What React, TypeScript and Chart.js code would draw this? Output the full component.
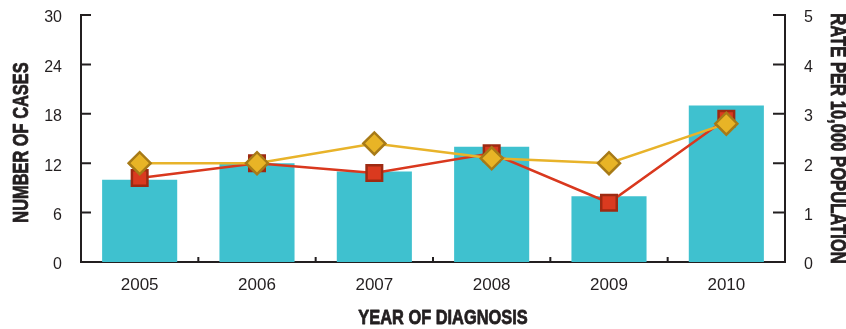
import React, { useEffect, useRef } from "react";
import { Chart, registerables } from "chart.js";

Chart.register(...registerables);

const years = ["2005", "2006", "2007", "2008", "2009", "2010"];
const cases = [10, 12, 11, 14, 8, 19];
const rateRed = [1.7, 2.0, 1.8, 2.2, 1.2, 2.9];
const rateYellow = [2.0, 2.0, 2.4, 2.1, 2.0, 2.8];

const xTitle = "YEAR OF DIAGNOSIS";
const yTitle = "NUMBER OF CASES";
const y1Title = "RATE PER 10,000 POPULATION";

const AXIS_COLOR = "#231F20";
const TICK_FONT = "'Liberation Sans', Arial, sans-serif";

const inwardTicks = {
  id: "inwardTicks",
  afterDraw(chart: any) {
    const ctx = chart.ctx;
    const x = chart.scales.x;
    const y = chart.scales.y;
    const y1 = chart.scales.y1;
    ctx.save();
    ctx.strokeStyle = AXIS_COLOR;
    ctx.lineWidth = 2;
    ctx.beginPath();
    y.ticks.forEach((_t: any, i: number) => {
      const py = y.getPixelForTick(i);
      ctx.moveTo(y.right, py);
      ctx.lineTo(y.right + 10, py);
    });
    y1.ticks.forEach((_t: any, i: number) => {
      const py = y1.getPixelForTick(i);
      ctx.moveTo(y1.left, py);
      ctx.lineTo(y1.left - 12, py);
    });
    for (let i = 0; i < x.ticks.length - 1; i++) {
      const px = (x.getPixelForTick(i) + x.getPixelForTick(i + 1)) / 2;
      ctx.moveTo(px, x.top);
      ctx.lineTo(px, x.top - 5);
    }
    ctx.stroke();
    ctx.restore();
  },
};

// Axis titles drawn in a condensed heavy face (horizontal compression)
const condensedTitles = {
  id: "condensedTitles",
  afterDraw(chart: any) {
    const ctx = chart.ctx;
    const area = chart.chartArea;
    const midY = (area.top + area.bottom) / 2;
    const draw = (text: string, cx: number, cy: number, rot: number, sx: number, size: number) => {
      ctx.save();
      ctx.translate(cx, cy);
      ctx.rotate(rot);
      ctx.scale(sx, 1);
      ctx.font = `bold ${size}px 'Liberation Sans', Arial, sans-serif`;
      ctx.fillStyle = AXIS_COLOR;
      ctx.strokeStyle = AXIS_COLOR;
      ctx.lineWidth = 0.8;
      ctx.lineJoin = "round";
      ctx.textAlign = "center";
      ctx.textBaseline = "middle";
      ctx.fillText(text, 0, 0);
      ctx.strokeText(text, 0, 0);
      ctx.restore();
    };
    draw(yTitle, 22, midY + 4, -Math.PI / 2, 0.745, 22);
    draw(y1Title, 837, midY, Math.PI / 2, 0.755, 22);
    draw(xTitle, (area.left + area.right) / 2 + 10, 318, 0, 0.78, 21);
  },
};

export default function App() {
  const ref = useRef<HTMLCanvasElement | null>(null);
  useEffect(() => {
    if (!ref.current) return;
    const chart = new Chart(ref.current, {
      type: "bar",
      data: {
        labels: years,
        datasets: [
          {
            type: "line",
            label: "Rate (yellow)",
            data: rateYellow,
            yAxisID: "y1",
            borderColor: "#E8B32A",
            borderWidth: 2.5,
            backgroundColor: "#E8B426",
            pointStyle: "rectRot",
            pointRadius: 11,
            pointBorderColor: "#A77A17",
            pointBorderWidth: 2.5,
            pointBackgroundColor: "#E8B426",
            order: 0,
          } as any,
          {
            type: "line",
            label: "Rate (red)",
            data: rateRed,
            yAxisID: "y1",
            borderColor: "#D9381E",
            borderWidth: 2.5,
            backgroundColor: "#DA3A1F",
            pointStyle: "rect",
            pointRadius: 11,
            pointBorderColor: "#9E2A12",
            pointBorderWidth: 2.5,
            pointBackgroundColor: "#DA3A1F",
            order: 1,
          } as any,
          {
            type: "bar",
            label: "Number of cases",
            data: cases,
            yAxisID: "y",
            backgroundColor: "#3FC1CF",
            borderWidth: 0,
            categoryPercentage: 0.8,
            barPercentage: 0.8,
            order: 2,
          } as any,
        ],
      },
      options: {
        responsive: false,
        animation: false,
        layout: { padding: { top: 15, left: 0, right: 0, bottom: 0 } },
        plugins: {
          legend: { display: false },
          tooltip: { enabled: false },
        },
        scales: {
          x: {
            offset: true,
            grid: { display: false, offset: true },
            border: { display: true, color: AXIS_COLOR, width: 2 },
            ticks: {
              color: "#231F20",
              font: { family: TICK_FONT, size: 17 },
              padding: 5,
            },
            title: { display: false, text: xTitle },
            afterFit(scale: any) {
              scale.height = 67;
            },
          },
          y: {
            position: "left",
            min: 0,
            max: 30,
            ticks: {
              stepSize: 6,
              color: "#231F20",
              font: { family: TICK_FONT, size: 16 },
              padding: 11,
              labelOffset: 3,
            },
            grid: { display: false },
            border: { display: true, color: AXIS_COLOR, width: 2 },
            title: { display: false, text: yTitle },
            afterFit(scale: any) {
              scale.width = 81;
              scale.paddingTop = 0;
              scale.paddingBottom = 0;
            },
          },
          y1: {
            position: "right",
            min: 0,
            max: 5,
            ticks: {
              stepSize: 1,
              color: "#231F20",
              font: { family: TICK_FONT, size: 16 },
              padding: 11,
              labelOffset: 3,
            },
            grid: { display: false },
            border: { display: true, color: AXIS_COLOR, width: 2 },
            title: { display: false, text: y1Title },
            afterFit(scale: any) {
              scale.width = 61;
              scale.paddingTop = 0;
              scale.paddingBottom = 0;
            },
          },
        },
      },
      plugins: [inwardTicks, condensedTitles],
    });
    return () => chart.destroy();
  }, []);
  return (
    <div style={{ position: "absolute", left: 0, top: 0, width: 846, height: 329, background: "#fff" }}>
      <canvas ref={ref} width={846} height={329} style={{ display: "block" }} />
    </div>
  );
}
